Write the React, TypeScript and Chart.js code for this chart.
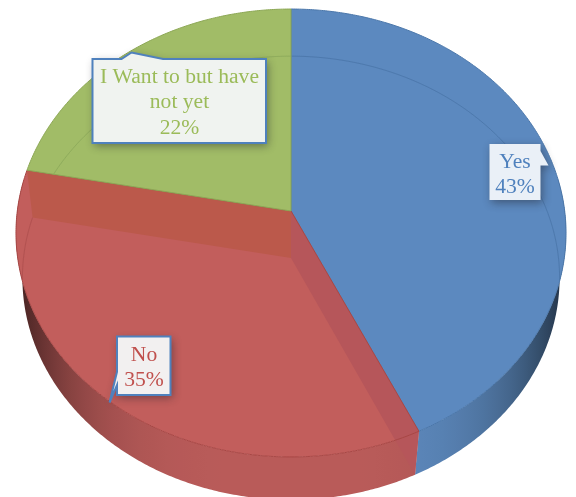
import React, { useEffect, useRef } from "react";
import { Chart, ArcElement, PieController, Tooltip, Legend } from "chart.js";

// Survey answers, in drawing order starting from twelve o'clock, clockwise.
const answers = [["Yes"], ["No"], ["I Want to but have", "not yet"]];
const shares = [43, 35, 22];
const faceColors = ["#5c89bf", "#c25e5c", "#a1bc67"];
const rimColors = ["#4b77aa", "#a84745", "#8ca755"];
const wallColors = ["#5d89bd", "#b95b59", "#8fa85c"];
const baseLineColors = ["rgba(60,100,150,0.55)", "rgba(160,70,70,0.6)", "rgba(130,160,85,0.7)"];
const textColors = ["#4f81bd", "#c0504d", "#9bbb59"];
// The No slice is see-through: its two inner walls show on its face.
const innerWalls = [null, { start: "#b6565a", end: "#bb594b" }, null];

// Callout boxes: rectangle, fill, outline flag, the side its pointer leaves from, pointer vertices,
// and the horizontal centre and first-line middle of the text.
const callouts = [
  { x: 489.5, y: 144, w: 51, h: 56, fill: "#eaf0f7", stroke: false, side: "right", tip: [[540.5, 151], [548.5, 165.5], [540.5, 165.5]], top: 162, cx: 515 },
  { x: 117, y: 336.5, w: 53.5, h: 58.5, fill: "#f2f0f0", stroke: true, side: "left", tip: [[117, 385], [109.5, 402.5], [117, 372]], top: 355, cx: 144 },
  { x: 92.5, y: 59, w: 173.5, h: 84, fill: "#f0f3f0", stroke: true, side: "top", tip: [[121.5, 59], [131.5, 52.5], [163, 59]], top: 77, cx: 179.5 },
];

// Perspective view of the disc: planar unit circle to screen.
const CX = 291;
const TOP_SURFACE = { apexY: 211, ax: 273.7, ay: 221.8, k: 0.0982 };
const BASE_SURFACE = { apexY: 258, ax: 267.5, ay: 220, k: 0.09 };
const HALF_WIDTH = 275;

type Surface = typeof TOP_SURFACE;

function project(s: Surface, angle: number): [number, number] {
  const X = Math.cos(angle);
  const Y = -Math.sin(angle);
  const d = 1 + s.k * Y;
  return [CX + (s.ax * X) / d, s.apexY - (s.ay * Y) / d];
}

function shade(hex: string, f: number): string {
  const n = parseInt(hex.slice(1), 16);
  const c = [(n >> 16) & 255, (n >> 8) & 255, n & 255].map((v) => Math.round(v * f));
  return `rgb(${c[0]},${c[1]},${c[2]})`;
}

function rimPath(ctx: CanvasRenderingContext2D, s: Surface, a0: number, a1: number, move: boolean) {
  const steps = Math.max(2, Math.ceil((Math.abs(a1 - a0) * 180) / Math.PI) * 2);
  for (let i = 0; i <= steps; i++) {
    const p = project(s, a0 + ((a1 - a0) * i) / steps);
    if (i === 0 && move) ctx.moveTo(p[0], p[1]);
    else ctx.lineTo(p[0], p[1]);
  }
}

function quad(ctx: CanvasRenderingContext2D, pts: number[][], color: string) {
  ctx.beginPath();
  pts.forEach((p, i) => (i ? ctx.lineTo(p[0], p[1]) : ctx.moveTo(p[0], p[1])));
  ctx.closePath();
  ctx.fillStyle = color;
  ctx.fill();
}

// Horizontal shading of the outer wall: darkest at the two silhouette edges.
function wallGradient(ctx: CanvasRenderingContext2D, base: string) {
  const g = ctx.createLinearGradient(CX - HALF_WIDTH, 0, CX + HALF_WIDTH, 0);
  for (let n = 0; n <= 40; n++) {
    const t = Math.abs(n / 20 - 1);
    g.addColorStop(n / 40, shade(base, 1 - 0.65 * Math.pow(t, 4)));
  }
  return g;
}

function facePath(ctx: CanvasRenderingContext2D, a0: number, a1: number) {
  ctx.beginPath();
  ctx.moveTo(CX, TOP_SURFACE.apexY);
  rimPath(ctx, TOP_SURFACE, a0, a1, false);
  ctx.closePath();
}

class Arc3DElement extends ArcElement {
  static id = "arc3d";
  sliceIndex = 0;

  draw(ctx: CanvasRenderingContext2D) {
    const i = this.sliceIndex;
    const { startAngle: a0, endAngle: a1 } = this as any;
    ctx.save();

    // Outer wall: only the near half of the disc shows it.
    const w0 = Math.max(a0, -0.15);
    const w1 = Math.min(a1, Math.PI + 0.15);
    if (w1 > w0) {
      ctx.beginPath();
      rimPath(ctx, TOP_SURFACE, w0, w1, true);
      rimPath(ctx, BASE_SURFACE, w1, w0, false);
      ctx.closePath();
      ctx.fillStyle = wallGradient(ctx, wallColors[i]);
      ctx.fill();
    }

    // Top face.
    facePath(ctx, a0, a1);
    ctx.fillStyle = faceColors[i];
    ctx.fill();

    // Far edge of the base, seen through the face and kept inside it.
    ctx.save();
    facePath(ctx, a0, a1);
    ctx.clip();
    ctx.beginPath();
    rimPath(ctx, BASE_SURFACE, a0, a1, true);
    ctx.strokeStyle = baseLineColors[i];
    ctx.lineWidth = 0.8;
    ctx.stroke();
    ctx.restore();

    const walls = innerWalls[i];
    if (walls) {
      const topApex = [CX, TOP_SURFACE.apexY];
      const baseApex = [CX, BASE_SURFACE.apexY];
      quad(ctx, [topApex, project(TOP_SURFACE, a0), project(BASE_SURFACE, a0), baseApex], walls.start);
      quad(ctx, [topApex, project(TOP_SURFACE, a1), project(BASE_SURFACE, a1), baseApex], walls.end);
    }

    // Rim and radial edges of the face.
    facePath(ctx, a0, a1);
    ctx.strokeStyle = rimColors[i];
    ctx.lineWidth = 1;
    ctx.stroke();
    ctx.restore();
  }
}

class Pie3DController extends PieController {
  static id = "pie3d";
  static defaults = { dataElementType: "arc3d" };

  draw() {
    const ctx = this.chart.ctx;
    (this as any)._cachedMeta.data.forEach((arc: Arc3DElement, i: number) => {
      arc.sliceIndex = i;
      arc.draw(ctx);
    });
  }
}

// Traces a callout rectangle clockwise with its pointer inserted in the right side of the outline.
function calloutPath(ctx: CanvasRenderingContext2D, c: (typeof callouts)[number]) {
  const l = c.x;
  const r = c.x + c.w;
  const t = c.y;
  const b = c.y + c.h;
  const tip = () => c.tip.forEach((p) => ctx.lineTo(p[0], p[1]));
  ctx.beginPath();
  ctx.moveTo(l, t);
  if (c.side === "top") tip();
  ctx.lineTo(r, t);
  if (c.side === "right") tip();
  ctx.lineTo(r, b);
  ctx.lineTo(l, b);
  if (c.side === "left") tip();
  ctx.closePath();
}

// Draws each slice's answer and percentage in its speech-bubble box.
const calloutPlugin = {
  id: "callouts",
  afterDatasetsDraw(chart: Chart) {
    const ctx = chart.ctx;
    const total = shares.reduce((a, b) => a + b, 0);
    const lineGap = 25.7;
    callouts.forEach((c, i) => {
      ctx.save();
      ctx.shadowColor = "rgba(30,30,40,0.45)";
      ctx.shadowBlur = 9;
      ctx.shadowOffsetX = 2;
      ctx.shadowOffsetY = 3;
      calloutPath(ctx, c);
      ctx.fillStyle = c.fill;
      ctx.fill();
      ctx.shadowColor = "transparent";
      if (c.stroke) {
        ctx.strokeStyle = "#4f81bd";
        ctx.lineWidth = 2;
        ctx.lineJoin = "miter";
        ctx.stroke();
      }
      ctx.fillStyle = textColors[i];
      ctx.font = '21.6px "Liberation Serif"';
      ctx.textAlign = "center";
      ctx.textBaseline = "middle";
      const lines = [...answers[i], `${Math.round((shares[i] / total) * 100)}%`];
      lines.forEach((line, n) => ctx.fillText(line, c.cx, c.top + n * lineGap));
      ctx.restore();
    });
  },
};

Chart.register(Pie3DController, Arc3DElement, Tooltip, Legend);

export default function App() {
  const ref = useRef<HTMLCanvasElement>(null);

  useEffect(() => {
    const chart = new Chart(ref.current!, {
      type: "pie3d" as any,
      data: {
        labels: answers.map((a) => a.join(" ")),
        datasets: [{ data: shares, backgroundColor: faceColors, borderColor: rimColors, clip: false } as any],
      },
      options: {
        animation: false,
        responsive: false,
        plugins: { legend: { display: false }, tooltip: { enabled: false } },
      },
      plugins: [calloutPlugin],
    });
    return () => chart.destroy();
  }, []);

  return (
    <div style={{ position: "absolute", left: 0, top: 0, width: 576, height: 497, background: "#fff" }}>
      <canvas ref={ref} width={576} height={497} style={{ display: "block" }} />
    </div>
  );
}
